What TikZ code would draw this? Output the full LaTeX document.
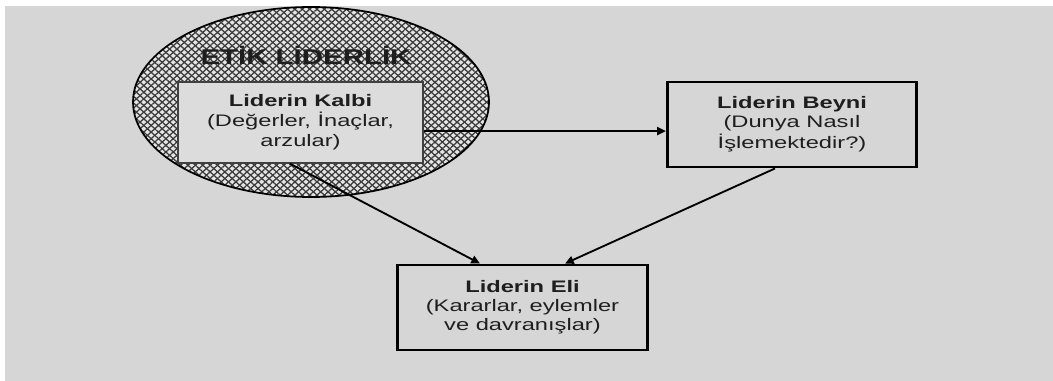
\documentclass[tikz,border=0pt]{standalone}
\usepackage{fontspec}
\setmainfont{Liberation Sans}
\usetikzlibrary{arrows.meta,patterns.meta}
\definecolor{bg}{HTML}{D6D6D6}
\definecolor{ink}{HTML}{1E1E1E}
\definecolor{hatch}{HTML}{3A3A3A}
\definecolor{boxfill}{HTML}{DCDCDC}
\newcommand{\widetext}[1]{\scalebox{1.42}[1]{\begin{tabular}{@{}c@{}}#1\end{tabular}}}
\tikzset{
  lbl/.style={align=center,font=\fontsize{12.5}{14.5}\selectfont,text=ink},
  innerbox/.style={lbl,draw=ink!85,line width=0.9pt,fill=boxfill,minimum width=183.75pt,minimum height=60.75pt,inner sep=0pt},
  thickbox/.style={lbl,draw=black,line width=2.2pt,fill=bg,minimum width=187pt,minimum height=63.75pt,inner sep=0pt},
  arr/.style={draw=black,line width=1.4pt,-{Triangle[length=6.5pt,width=6pt]}}
}
\begin{document}
\begin{tikzpicture}[x=0.75pt,y=-0.75pt]
\useasboundingbox (0,0) rectangle (1053,381);
\fill[white] (0,0) rectangle (1053,381);
\fill[bg] (5,6) rectangle (1053,381);
% ellipse with crosshatch
\fill[white!90!black] (311,102) ellipse [x radius=178, y radius=95];
\fill[pattern={Lines[angle=42,distance=3.7pt,line width=0.95pt]},pattern color=hatch] (311,102) ellipse [x radius=178, y radius=95];
\fill[pattern={Lines[angle=-42,distance=3.7pt,line width=0.95pt]},pattern color=hatch] (311,102) ellipse [x radius=178, y radius=95];
\draw[black,line width=1.3pt] (311,102) ellipse [x radius=178, y radius=95];
\node[font=\fontsize{16}{18}\bfseries\selectfont,text=ink] (title) at (306,55) {\scalebox{1.38}[1]{ETİK LİDERLİK}};
\node[innerbox] (kalbi) at (300.5,122.5) {\widetext{\textbf{Liderin Kalbi}\\(Değerler, İnaçlar,\\arzular)}};
\node[thickbox] (beyni) at (792,124.5) {\widetext{\textbf{Liderin Beyni}\\(Dunya Nasıl\\İşlemektedir?)}};
\node[thickbox] (eli) at (522.5,307.5) {\widetext{\textbf{Liderin Eli}\\(Kararlar, eylemler\\ve davranışlar)}};
\draw[arr] ([yshift=-6.4pt]kalbi.east) -- ([yshift=-6.4pt]kalbi.east -| beyni.west);
\draw[arr] ([xshift=-8pt]kalbi.south) -- ([xshift=-31.9pt]eli.north);
\draw[arr] ([xshift=-12.75pt]beyni.south) -- ([xshift=31.9pt]eli.north);
\end{tikzpicture}
\end{document}
